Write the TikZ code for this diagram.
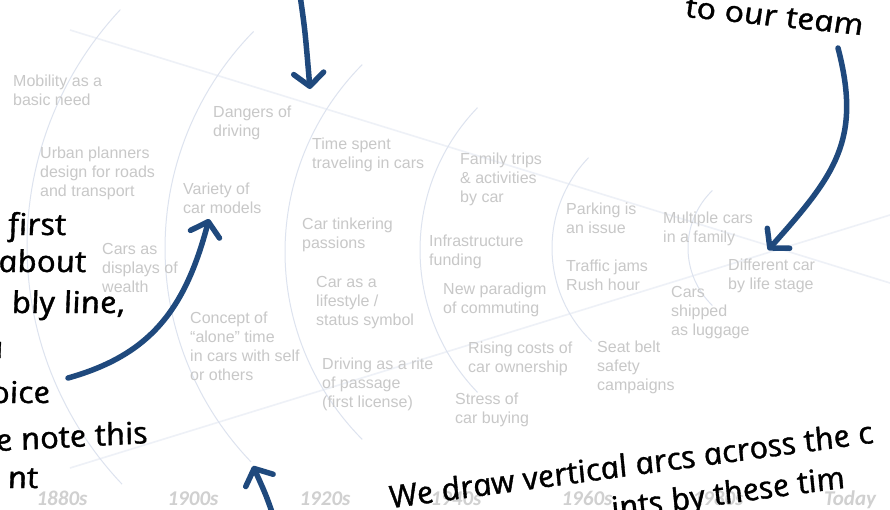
\documentclass[tikz,border=0pt]{standalone}
\usepackage{fontspec}
\setmainfont{Liberation Sans}
\newfontfamily\handfont[FakeStretch=1.12,FakeBold=1.2]{Open Sans}
\newfontfamily\yearfont{Carlito}
\usetikzlibrary{arrows.meta}
\definecolor{txtgrey}{RGB}{200,200,200}
\definecolor{yeargrey}{RGB}{208,208,208}
\definecolor{arcc}{RGB}{221,227,239}
\definecolor{funnelc}{RGB}{238,241,247}
\definecolor{arrowblue}{RGB}{31,73,125}
\begin{document}
\begin{tikzpicture}[x=1pt,y=-1pt,
  item/.style={anchor=north west, inner sep=0pt, align=left, font=\fontsize{16}{19}\selectfont, text=txtgrey},
  yearlbl/.style={anchor=base, inner sep=0pt, font=\yearfont\bfseries\itshape\fontsize{21}{21}\selectfont, text=yeargrey},
  hand/.style={inner sep=0pt, font=\handfont\itshape\fontsize{30}{40}\selectfont, text=black, xslant=-0.2},
  arcline/.style={draw=arcc, line width=1pt},
  funnel/.style={draw=funnelc, line width=1.6pt},
  callout/.style={draw=arrowblue, line width=5.5pt, line cap=round,
     -{Straight Barb[length=13pt,width=30pt,round]}}
]
\useasboundingbox (0,0) rectangle (890,509);
\clip (0,0) rectangle (890,509);
\fill[white] (0,0) rectangle (890,509);

% funnel lines
\coordinate (u1) at (70,30);
\coordinate (u2) at (890,283);
\coordinate (d1) at (70,468);
\coordinate (d2) at (890,215);
\draw[funnel] (u1) -- (u2);
\draw[funnel] (d1) -- (d2);

% arcs
\draw[arcline] plot[domain=136.5:223.1, samples=60] ({373+346*cos(\x)}, {246+346*sin(\x)});
\draw[arcline] plot[domain=136.2:224.5, samples=60] ({474+309*cos(\x)}, {248+309*sin(\x)});
\draw[arcline] plot[domain=135.2:224.8, samples=60] ({551+266*cos(\x)}, {252+266*sin(\x)});
\draw[arcline] plot[domain=136:224, samples=60] ({625+205*cos(\x)}, {250+205*sin(\x)});
\draw[arcline] plot[domain=134:224, samples=60] ({682+130*cos(\x)}, {248+130*sin(\x)});
\draw[arcline] plot[domain=134:226, samples=60] ({768+80*cos(\x)}, {248+80*sin(\x)});

% grey items
\node[item] (mob) at (13,75) {Mobility as a\\basic need};
\node[item] (urb) at (40,147) {Urban planners\\design for roads\\and transport};
\node[item] (disp) at (102,243) {Cars as\\displays of\\wealth};
\node[item] (dang) at (213,106) {Dangers of\\driving};
\node[item] (var) at (183,183) {Variety of\\car models};
\node[item] (alone) at (190,312) {Concept of\\``alone'' time\\in cars with self\\or others};
\node[item] (time) at (312,138) {Time spent\\traveling in cars};
\node[item] (tink) at (302,218) {Car tinkering\\passions};
\node[item] (life) at (316,276) {Car as a\\lifestyle /\\status symbol};
\node[item] (rite) at (322,358) {Driving as a rite\\of passage\\(first license)};
\node[item] (fam) at (460,153) {Family trips\\\& activities\\by car};
\node[item] (infra) at (429,235) {Infrastructure\\funding};
\node[item] (para) at (443,283) {New paradigm\\of commuting};
\node[item] (cost) at (468,342) {Rising costs of\\car ownership};
\node[item] (stress) at (455,393) {Stress of\\car buying};
\node[item] (park) at (566,203) {Parking is\\an issue};
\node[item] (jam) at (566,260) {Traffic jams\\Rush hour};
\node[item] (belt) at (597,341) {Seat belt\\safety\\campaigns};
\node[item] (multi) at (663,212) {Multiple cars\\in a family};
\node[item] (ship) at (671,286) {Cars\\shipped\\as luggage};
\node[item] (diff) at (728,259) {Different car\\by life stage};

% years
\node[yearlbl] (y1) at (62,505) {1880s};
\node[yearlbl] (y2) at (193,505) {1900s};
\node[yearlbl] (y3) at (325,505) {1920s};
\node[yearlbl] (y4) at (456,505) {1940s};
\node[yearlbl] (y5) at (587,505) {1960s};
\node[yearlbl] (y6) at (718,505) {1980s};
\node[yearlbl] (y7) at (850,505) {Today};

% handwriting
\node[hand, anchor=base west, rotate=-6] (team) at (686,17) {to our team};
\node[hand, anchor=base east] (h1) at (68,235) {first};
\node[hand, anchor=base east] (h2) at (88,272) {about};
\node[hand, anchor=base east] (h3) at (127,313) {bly line,};
\node[hand, anchor=base east] (h4) at (5,358) {a};
\node[hand, anchor=base east] (h5) at (52,403) {oice};
\node[hand, anchor=base east, rotate=3] (h6) at (150,443) {e note this};
\node[hand, anchor=base east] (h7) at (40,488) {nt};
\node[hand, anchor=base west, rotate=7.5] (b1) at (392,508) {We draw vertical arcs across the c};
\node[hand, anchor=base west, rotate=7.5] (b2) at (614,519) {ints by these tim};

% arrows
\coordinate (a1s) at (300,-5);
\coordinate (a1e) at (310,89);
\draw[callout] (a1s) .. controls (305,30) .. (a1e);
\coordinate (a2s) at (838,48);
\coordinate (a2e) at (768,250);
\draw[callout] (a2s) .. controls (862,140) and (835,175) .. (a2e);
\coordinate (a3s) at (68,378);
\coordinate (a3e) at (209,219);
\draw[callout] (a3s) .. controls (150,355) and (185,310) .. (a3e);
\coordinate (a4s) at (273,515);
\coordinate (a4e) at (253,466);
\draw[callout] (a4s) .. controls (266,495) .. (a4e);
\end{tikzpicture}
\end{document}
